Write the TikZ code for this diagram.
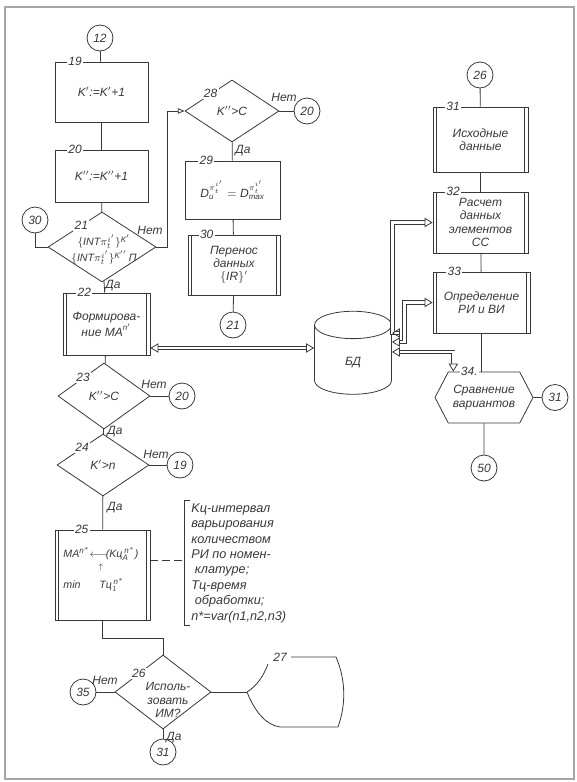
\documentclass[tikz,border=0pt]{standalone}
\usepackage{amsmath}
\usepackage{fontspec}
\setmainfont{Liberation Sans}
\usetikzlibrary{shapes.geometric,shapes.symbols,arrows.meta,positioning,calc}
\colorlet{ink}{black!78}
\tikzset{
    box/.style = {draw, rectangle, inner sep=2pt, align=center},
    predef/.style = {box, path picture={
        \draw ([xshift=2.6pt]path picture bounding box.north west) -- ([xshift=2.6pt]path picture bounding box.south west)
              ([xshift=-2.6pt]path picture bounding box.north east) -- ([xshift=-2.6pt]path picture bounding box.south east);}},
    decision/.style = {draw, diamond, inner sep=0pt},
    conn/.style = {draw, circle, minimum size=19.5pt, inner sep=0pt},
    numlabel/.style = {fill=white, inner sep=1pt},
    txt/.style = {align=center, inner sep=0pt},
    formula/.style = {txt, font=\fontsize{8}{12}\selectfont\itshape},
    note/.style = {align=left, inner sep=0pt, font=\fontsize{9.5}{11.6}\selectfont\itshape},
    dbl/.style = {double, double distance=2pt, line width=0.6pt,
        {Triangle[open, length=6pt, width=7pt]}-{Triangle[open, length=6pt, width=7pt]}},
    flow/.style = {-{Triangle[open, length=5pt, width=4pt]}},
}

\begin{document}
\begin{tikzpicture}[x=0.75pt, y=-0.75pt, color=ink, line width=0.6pt,
    every node/.style={font=\fontsize{9}{10}\selectfont\itshape}]
\useasboundingbox (0,0) rectangle (577,782);
\draw[black!35, line width=1pt] (5,7) rectangle (574,779);

% left column
\node[conn] (c12) at (100,38) {12};
\node[box, minimum width=69.75pt, minimum height=45pt] (b19) at (101.5,92) {K$'$:=K$'$+1};
\node[numlabel, right=9pt] at (b19.north west) {19};
\node[box, minimum width=69.75pt, minimum height=39pt] (b20) at (101.5,176) {K$''$:=K$''$+1};
\node[numlabel, right=9pt] at (b20.north west) {20};
\node[decision, minimum width=81pt, minimum height=52.5pt] (d21) at (102,247) {};
\node[formula] (t21) at (104,250) {$\{\text{INT}\pi_t^{i'}\}^{\text{K}'}$\\$\{\text{INT}\pi_t^{i'}\}^{\text{K}''}$\,П};
\node[numlabel] (l21) at ($(d21.west)!0.62!(d21.north)$) {21};
\node[conn] (c30) at (35,220) {30};
\node[predef, minimum width=65.25pt, minimum height=46.5pt] (b22) at (106.5,324) {Формирова-\\ние МА$^{\text{n}'}$};
\node[numlabel, right=10pt] at (b22.north west) {22};
\node[decision, minimum width=69pt, minimum height=49.5pt] (d23) at (104,396) {};
\node[txt] (t23) at (d23) {K$''$>C};
\node[numlabel] (l23) at ($(d23.west)!0.55!(d23.north)$) {23};
\node[conn] (c20a) at (182,396) {20};
\node[decision, minimum width=69pt, minimum height=46.5pt] (d24) at (103,465) {};
\node[txt] (t24) at (d24) {K$'$>n};
\node[numlabel] (l24) at ($(d24.west)!0.55!(d24.north)$) {24};
\node[conn] (c19) at (180,465) {19};
\node[predef, minimum width=71.25pt, minimum height=67.5pt] (b25) at (102.5,575) {};
\node[formula, anchor=west] (t25a) at (63,554) {MA$^{\text{n}^*}\!\!\longleftarrow\!$(Kц$_{\text{A}}^{\,\text{n}^*}$)};
\node[formula, font=\fontsize{6}{7}\selectfont] (t25b) at (101,567) {$\uparrow$};
\node[formula, anchor=west] (t25c) at (63,585) {min\hspace{14pt}Tц$_1^{\,\text{n}^*}$};
\node[numlabel, right=14pt] at (b25.north west) {25};
\node[decision, minimum width=72pt, minimum height=55.5pt] (d26) at (163,692) {};
\node[txt] (t26) at (168,700) {Исполь-\\зовать\\ИМ?};
\node[numlabel] (l26) at ($(d26.west)!0.5!(d26.north)$) {26};
\node[conn] (c35) at (83,692) {35};
\node[conn] (c31b) at (163,752) {31};

% middle column
\node[decision, minimum width=70.5pt, minimum height=46.5pt] (d28) at (232,111) {};
\node[txt] (t28) at (d28) {K$''$>C};
\node[numlabel] (l28) at ($(d28.west)!0.55!(d28.north)$) {28};
\node[conn] (c20b) at (307,111) {20};
\node[box, minimum width=71.25pt, minimum height=43.5pt] (b29) at (232.5,190)
    {$\text{D}_{\text{и}}^{\pi_t^{i'}}=\text{D}_{\text{max}}^{\pi_t^{i'}}$};
\node[numlabel, right=10pt] at (b29.north west) {29};
\node[predef, minimum width=69pt, minimum height=45pt] (b30) at (234,265) {Перенос\\данных\\$\{$IR$\}'$};
\node[numlabel, right=8pt] at (b30.north west) {30};
\node[conn] (c21) at (233,325) {21};
\node[cylinder, draw, shape border rotate=90, aspect=1.1, minimum width=57.75pt, minimum height=62.25pt] (db) at (353,363) {БД};

% right column
\node[conn] (c26) at (480,75) {26};
\node[predef, minimum width=71.25pt, minimum height=48.75pt] (b31) at (480.5,139.5) {Исходные\\данные};
\node[numlabel, right=9pt] at (b31.north west) {31};
\node[predef, minimum width=71.25pt, minimum height=45.75pt] (b32) at (480.5,222.5) {Расчет\\данных\\элементов\\СС};
\node[numlabel, right=9pt] at (b32.north west) {32};
\node[predef, minimum width=72.75pt, minimum height=45.75pt] (b33) at (481.5,302.5) {Определение\\РИ и ВИ};
\node[numlabel, right=10pt] at (b33.north west) {33};
\node[signal, draw, signal to=east and west, signal pointer angle=125, minimum width=73.5pt, minimum height=38.25pt, align=center] (h34) at (484,397.5) {Сравнение\\вариантов};
\node[numlabel] (l34) at ([xshift=-11pt]h34.north) {34.};
\node[conn] (c31) at (555,397.5) {31};
\node[conn] (c50) at (484,468) {50};

% connectors
\draw (c12) -- (b19);
\draw (b19) -- (b20);
\draw (b20) -- (d21);
\draw (c30) |- (d21.west);
\draw[flow] (d21.east) -- ++(11,0) |- (d28.west);
\node (n21) at (150,230) {Нет};
\draw (d21) -- (b22);
\node (y21) at (113,286) {Да};
\draw (b22) -- (d23);
\draw (d23) -- (c20a);
\node (n23) at (154,384) {Нет};
\draw (d23) -- (d24);
\node (y23) at (115,432) {Да};
\draw (d24) -- (c19);
\node (n24) at (156,454) {Нет};
\draw (d24) -- (b25);
\node (y24) at (115,508) {Да};
\draw (b25.south) -- ++(0,18) -| (d26.north);
\draw (d26) -- (c35);
\node (n26) at (105,680) {Нет};
\draw (d26) -- (c31b);
\node (y26) at (174,738) {Да};

\draw (d28) -- (c20b);
\node (n28) at (284,97) {Нет};
\draw (d28) -- (b29);
\node (y28) at (243,151) {Да};
\draw (b29) -- (b30);
\draw (b30) -- (c21);

\draw (c26) -- (b31);
\draw (b31) -- (b32);
\draw (b32) -- (b33);
\draw (b33) -- (b33 |- h34.north);
\draw (h34) -- (c50);
\draw (h34) -- (c31);

% data base links
\coordinate (dbW) at ([yshift=11.25pt]db.west);
\coordinate (dbE1) at ([yshift=22.5pt]db.east);
\coordinate (dbE2) at ([yshift=15.75pt]db.east);
\coordinate (dbE3) at ([yshift=8.25pt]db.east);
\draw[dbl] (b22.east |- dbW) -- (dbW);
\draw[dbl] (dbE1) -| ([xshift=-30pt]b32.west) -- (b32.west);
\draw[dbl] (dbE2) -| ([xshift=-21pt]b33.west) -- (b33.west);
\draw[dbl] (dbE3) -| ([xshift=-23pt]h34.north);

% block 27
\coordinate (s27) at (247,692);
\draw (d26.east) -- (s27);
\draw (s27) .. controls (257,686) and (264,675) .. (268,664);
\node[inner sep=1pt] (n27) at (280,657) {27};
\draw (291,657) -- (336,657) .. controls (346,680) and (346,705) .. (338,727) -- (280,727) .. controls (266,725) and (255,712) .. (s27);

% note
\coordinate (brk) at (184,560);
\draw[dash pattern=on 6pt off 3pt] (b25.east |- brk) -- (brk);
\draw (190,500) -- (184,500) -- (184,625) -- (190,625);
\node[note, anchor=north west] (nt) at (191,503) {Kц-интервал\\варьирования\\количеством\\РИ по номен-\\\ клатуре;\\Tц-время\\\ обработки;\\n*=var(n1,n2,n3)};
\end{tikzpicture}
\end{document}
